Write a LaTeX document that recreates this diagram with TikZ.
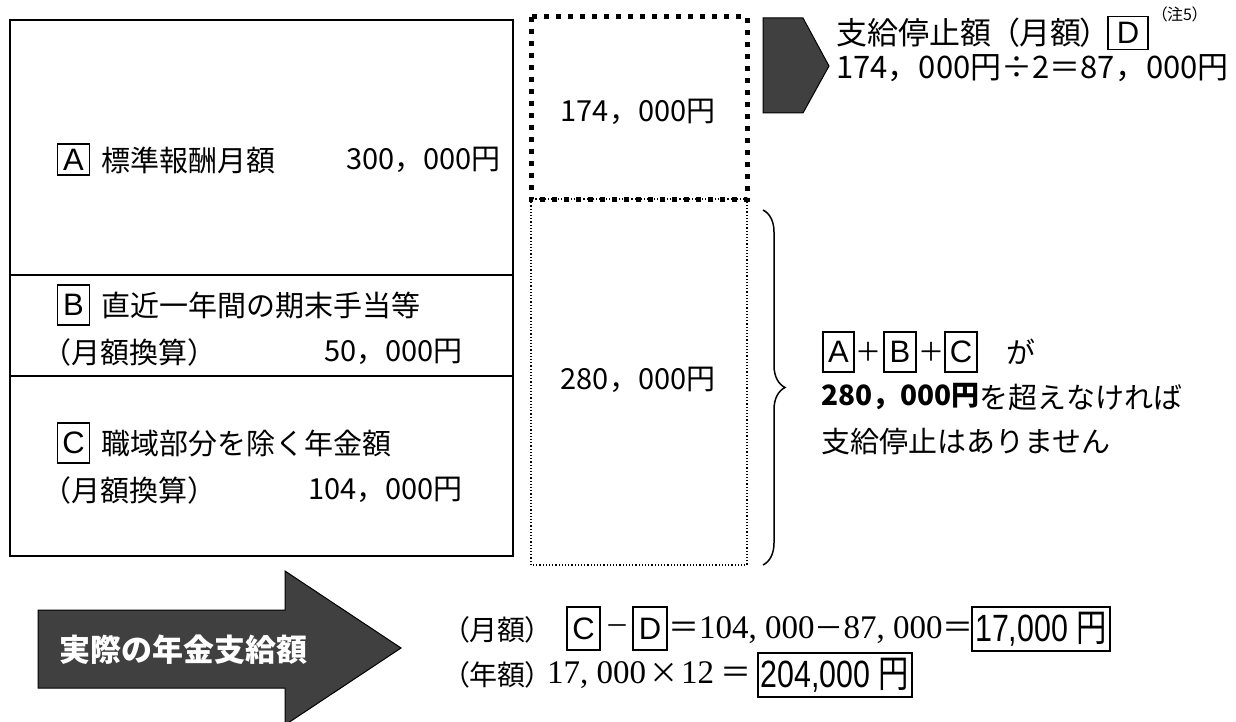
\documentclass[tikz,border=0pt]{standalone}
\usepackage{fontspec}
\setmainfont{Noto Sans CJK JP}
\newfontfamily\lat{Liberation Sans}
\newfontfamily\ser{Liberation Serif}
\newfontfamily\cjk{Noto Sans CJK JP}
\newfontfamily\cjkp[RawFeature=+palt]{Noto Sans CJK JP}
\usetikzlibrary{decorations.pathreplacing}
\newcommand\fsz[1]{\fontsize{#1}{#1}\selectfont}
\definecolor{dk}{HTML}{404040}
\begin{document}
\begin{tikzpicture}[x=1pt,y=-1pt,
  lbox/.style={draw, line width=1.7pt, inner sep=0pt, minimum width=32pt, minimum height=40pt, font=\lat\fsz{31}},
  gt/.style={inner sep=0pt, font=\fsz{29}},
  mt/.style={inner sep=0pt, font=\fsz{29}},
  resbox/.style={draw, line width=1.8pt, inner sep=0pt, minimum height=44pt},
  frame/.style={line width=2.5pt},
  darrow/.style={fill=dk, draw=black, line width=1pt, line join=miter}
]
\useasboundingbox (0,0) rectangle (1236,722);

% left stacked box
\draw[frame] (10,20) rectangle (513,556);
\draw[frame] (10,275) -- (513,275);
\draw[frame] (10,376) -- (513,376);

\node[lbox, minimum height=31pt] (lA) at (73.5,159.5) {A};
\node[gt, anchor=west] (tA) at (101,160) {標準報酬月額};
\node[gt, anchor=west] (vA) at (346,160) {300，000円};

\node[lbox] (lB) at (73.5,305) {B};
\node[gt, anchor=west] (tB) at (101,305) {直近一年間の期末手当等};
\node[gt, anchor=west] (mB) at (42,352) {（月額換算）};
\node[gt, anchor=east] (vB) at (463,352) {50，000円};

\node[lbox] (lC) at (73.5,443) {C};
\node[gt, anchor=west] (tC) at (101,443) {職域部分を除く年金額};
\node[gt, anchor=west] (mC) at (42,490) {（月額換算）};
\node[gt, anchor=east] (vC) at (463,490) {104，000円};

% dotted boxes
\draw[line width=1.2pt, dotted] (531,199) rectangle (747,565);
\draw[line width=5pt, dash pattern=on 5pt off 7pt] (531,17) rectangle (747,200);
\node[gt] (v174) at (638,112) {174，000円};
\node[gt] (v280) at (638,380) {280，000円};

% top right pentagon arrow
\draw[darrow] (763,18) -- (803,18) -- (829,66) -- (803,113) -- (763,113) -- cycle;
\node[mt, anchor=west, font=\fsz{31}] (stop) at (836,33) {支給停止額};
\node[inner sep=0pt, font=\cjkp\fsz{31}] (stopm) at (1050,33) {（月額）};
\node[lbox, minimum width=40pt, minimum height=33pt] (lD) at (1128,33) {D};
\node[anchor=west, inner sep=0pt, font=\cjkp\fsz{16}] (note) at (1159,14) {（注5）};
\node[gt, anchor=west, font=\fsz{31}] (calc) at (836,68) {174，000円÷2＝87，000円};

% brace
\draw[line width=1.5pt, decorate, decoration={brace, amplitude=22pt}] (763,210) -- (763,565);

% right explanation
\node[lbox, minimum width=31pt] (rA) at (838.5,352) {A};
\node[inner sep=0pt, font=\cjk\fsz{26}] (p1) at (868,352) {＋};
\node[lbox] (rB) at (900,352) {B};
\node[inner sep=0pt, font=\cjk\fsz{26}] (p2) at (931,352) {＋};
\node[lbox] (rC) at (961,352) {C};
\node[mt, anchor=west] (ga) at (1006,352) {が};
\node[gt, anchor=west, font=\bfseries\fsz{28}] (r280) at (821,397) {280，000円};
\node[mt, anchor=west] (exceed) at (r280.east) {を超えなければ};
\node[mt, anchor=west] (none) at (821,442) {支給停止はありません};

% bottom big arrow
\draw[darrow] (38,610) -- (285,610) -- (285,571) -- (401,648) -- (285,725) -- (285,688) -- (38,688) -- cycle;
\node[text=white, inner sep=0pt, font=\bfseries\fsz{31}] (actual) at (183,650) {実際の年金支給額};

% bottom formulas
\node[anchor=west, inner sep=0pt, font=\cjkp\fsz{28}] (mon) at (455,630) {（月額）};
\node[lbox, minimum width=33pt, minimum height=43pt] (bC) at (583.5,628.5) {C};
\node[inner sep=0pt, font=\cjk\fsz{24}] (minus) at (617,630) {－};
\node[lbox, minimum width=34pt, minimum height=43pt] (bD) at (650,628.5) {D};
\node[anchor=west, inner sep=0pt, font=\cjk\fsz{31}] (eq1) at (668,630) {＝{\ser\fsz{33}104, 000}{\fsz{29}－}{\ser\fsz{33}87, 000}＝};
\node[resbox, minimum width=138pt] (res1) at (1041,629) {\scalebox{0.8}[1]{\lat\fsz{38}17,000 \cjk 円}};

\node[anchor=west, inner sep=0pt, font=\cjkp\fsz{28}] (yr) at (455,675) {（年額）};
\node[anchor=west, inner sep=0pt, font=\cjk\fsz{29}] (eq2) at (547,675) {{\ser\fsz{33}17, 000}\hspace{3pt}×\hspace{3pt}{\ser\fsz{33}12}\hspace{6pt}{\fsz{31}＝}};
\node[resbox, minimum width=154pt] (res2) at (835,675) {\scalebox{0.8}[1]{\lat\fsz{38}204,000 \cjk 円}};
\end{tikzpicture}
\end{document}
